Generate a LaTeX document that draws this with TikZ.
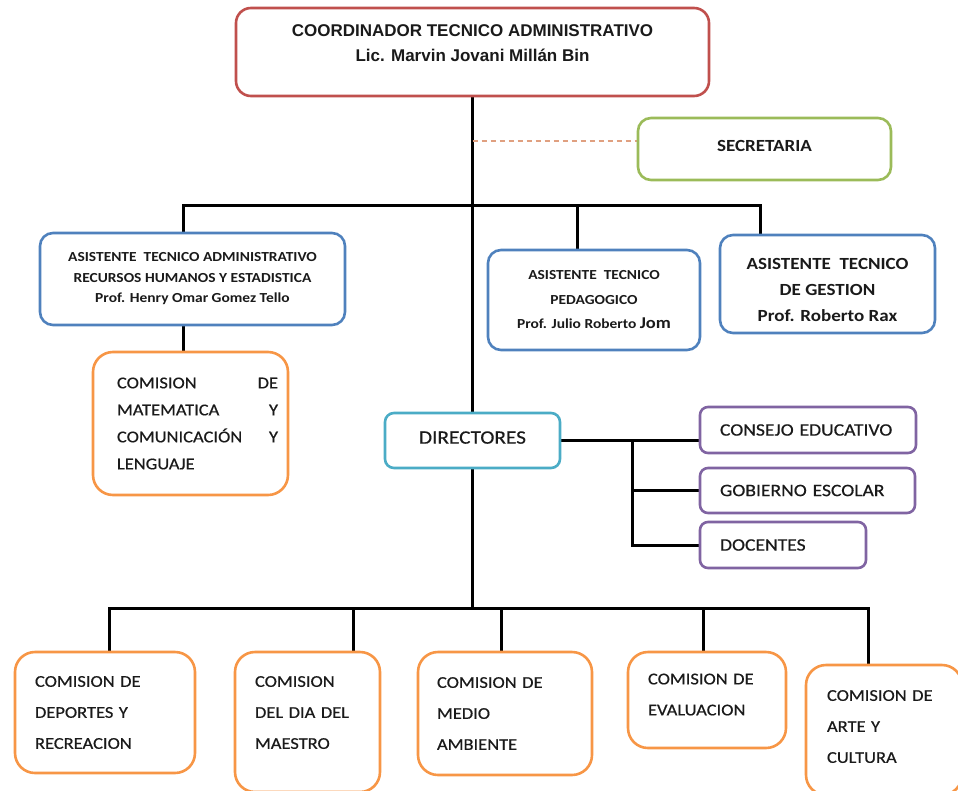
\documentclass[tikz,border=0pt]{standalone}
\usepackage{fontspec}
\setmainfont{Carlito}[FakeStretch=1.12, UprightFeatures={FakeBold=0.5}]
\newfontfamily\arialf{Liberation Sans}
\usetikzlibrary{backgrounds}
\definecolor{cred}{HTML}{C0504D}
\definecolor{cgreen}{HTML}{9BBB59}
\definecolor{cblue}{HTML}{4F81BD}
\definecolor{corange}{HTML}{F79646}
\definecolor{cteal}{HTML}{4BACC6}
\definecolor{cpurple}{HTML}{8064A2}
\definecolor{cdash}{HTML}{E0A080}
\definecolor{ctext}{HTML}{1A1A1A}
\begin{document}
\begin{tikzpicture}[x=1pt,y=-1pt,
  box/.style={draw, line width=2.6pt, rounded corners=13pt, fill=white, inner sep=0pt, align=center, text=ctext},
  bluebox/.style={box, draw=cblue, font=\bfseries\fontsize{13.8}{20.5}\selectfont},
  purplebox/.style={box, draw=cpurple, rounded corners=8pt, inner xsep=20pt, align=left, font=\fontsize{17.5}{20}\selectfont},
  combox/.style={box, draw=corange, rounded corners=20pt, inner xsep=20pt, align=left, font=\fontsize{16.5}{31}\selectfont},
  conn/.style={line width=3pt, draw=black},
]
\useasboundingbox (0,0) rectangle (958,790);

% top
\node[box, draw=cred, minimum width=473pt, minimum height=88pt, rounded corners=15pt,
  font=\arialf\bfseries\fontsize{17}{25}\selectfont] (coord) at (472.5,52)
  {COORDINADOR TECNICO ADMINISTRATIVO\\Lic. Marvin Jovani Millán Bin\\[-8pt]\mbox{}};

\node[box, draw=cgreen, minimum width=253pt, minimum height=62pt,
  font=\bfseries\fontsize{17}{18}\selectfont] (sec) at (764.5,149) {SECRETARIA\\[-12pt]\mbox{}};

% assistants
\node[bluebox, minimum width=305pt, minimum height=92pt] (rrhh) at (192.5,279)
  {ASISTENTE\ \ TECNICO ADMINISTRATIVO\\RECURSOS HUMANOS Y ESTADISTICA\\Prof. Henry Omar Gomez Tello};
\node[bluebox, minimum width=212pt, minimum height=100pt, font=\bfseries\fontsize{13.8}{24.5}\selectfont] (ped) at (594,300)
  {ASISTENTE\ \ TECNICO\\PEDAGOGICO\\Prof. Julio Roberto {\fontsize{16.5}{24}\selectfont Jom}};
\node[bluebox, minimum width=215pt, minimum height=98pt, font=\bfseries\fontsize{17}{26}\selectfont] (ges) at (827.5,284)
  {\mbox{}\\[-2pt]ASISTENTE\ \ TECNICO\\DE GESTION\\Prof. Roberto Rax};

\node[box, draw=corange, rounded corners=20pt, minimum width=195pt, minimum height=143pt,
  text width=175pt, inner xsep=10pt, align=left, font=\fontsize{16.5}{27}\selectfont] (mat) at (190.5,423.5)
  {\hspace*{14pt}COMISION\hfill DE\\\hspace*{14pt}MATEMATICA\hfill Y\\\hspace*{14pt}COMUNICACIÓN\hfill Y\\\hspace*{14pt}LENGUAJE};

% directores
\node[box, draw=cteal, rounded corners=9pt, minimum width=175pt, minimum height=55pt,
  font=\fontsize{19}{20}\selectfont] (dir) at (472.5,440.5) {DIRECTORES\\[-14pt]\mbox{}};

\node[purplebox, minimum width=216pt, minimum height=46pt, text width=176pt] (cons) at (808,430) {CONSEJO EDUCATIVO};
\node[purplebox, minimum width=215pt, minimum height=45pt, text width=175pt] (gob) at (807.5,490.5) {GOBIERNO ESCOLAR};
\node[purplebox, minimum width=166pt, minimum height=46pt, text width=126pt] (doc) at (783,545) {DOCENTES};

% comisiones
\node[combox, minimum width=180pt, minimum height=121pt, text width=140pt] (dep) at (105,712.5)
  {COMISION DE\\DEPORTES Y\\RECREACION};
\node[combox, minimum width=145pt, minimum height=140pt, text width=105pt] (dia) at (307.5,722)
  {COMISION\\DEL DIA DEL\\MAESTRO\\[-12pt]\mbox{}};
\node[combox, minimum width=174pt, minimum height=123pt, text width=136pt, inner xsep=18pt] (med) at (505,713.5)
  {COMISION DE\\MEDIO\\AMBIENTE};
\node[combox, minimum width=158pt, minimum height=96pt, text width=118pt] (eva) at (707,700)
  {COMISION DE\\EVALUACION\\[-20pt]\mbox{}};
\node[combox, minimum width=156pt, minimum height=130pt, text width=114pt, inner xsep=21pt] (arte) at (884,730)
  {COMISION DE\\ARTE Y\\CULTURA\\[-24pt]\mbox{}};

% coordinates for connector bends
\coordinate (d0) at (472.5,141);
\coordinate (bl) at (183,205);
\coordinate (xp) at (577,205);
\coordinate (br) at (760,205);
\coordinate (vx) at (632,441);
\coordinate (x1) at (109,608);
\coordinate (x2) at (353,608);
\coordinate (x3) at (501,608);
\coordinate (x4) at (703,608);
\coordinate (x5) at (868,608);

\begin{scope}[on background layer]
\draw[conn] (coord.south) -- (dir.north);
\draw[cdash, line width=1.3pt, dash pattern=on 5pt off 4pt] (d0) -- (d0 -| sec.west);
\draw[conn] (rrhh.north -| bl) -- (bl) -- (br) -- (ges.north -| br);
\draw[conn] (xp) -- (ped.north -| xp);
\draw[conn] (rrhh.south -| bl) -- (mat.north -| bl);
\draw[conn] (dir.east) -- (dir.east -| cons.west);
\draw[conn] (dir.east -| vx) |- (doc.west);
\draw[conn] (gob.west -| vx) -- (gob.west);
\draw[conn] (dir.south) -- (dir.south |- x1);
\draw[conn] (dep.north -| x1) -- (x1) -- (x5) -- (arte.north -| x5);
\draw[conn] (x2) -- (dia.north -| x2);
\draw[conn] (x3) -- (med.north -| x3);
\draw[conn] (x4) -- (eva.north -| x4);
\end{scope}
\end{tikzpicture}
\end{document}
